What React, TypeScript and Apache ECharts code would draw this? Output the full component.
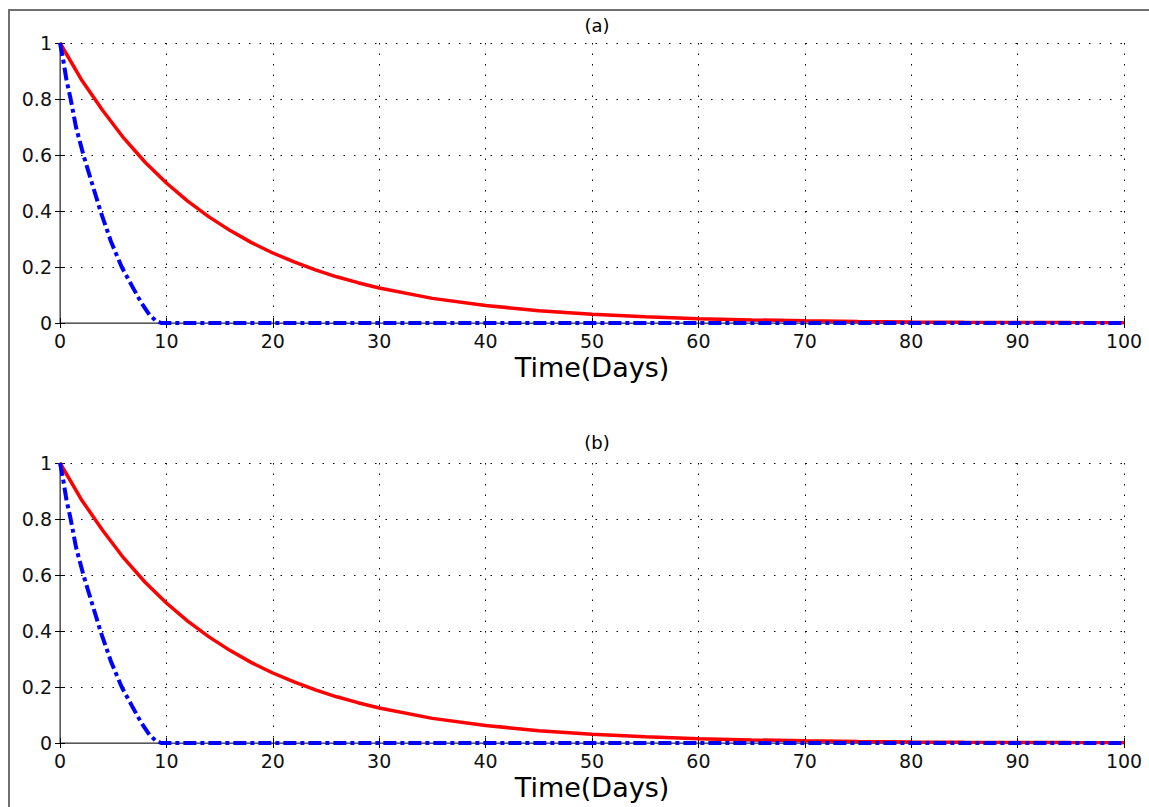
import React, { useEffect, useRef } from "react";
import * as echarts from "echarts";

// Values
const redTimes = [0, 2, 4, 6, 8, 10, 12, 14, 16, 18, 20, 22, 24, 26, 28, 30, 35, 40, 45, 50, 55, 60, 65, 70, 75, 80, 85, 90, 95, 100];
const redValues = [1, 0.87, 0.76, 0.66, 0.574, 0.5, 0.435, 0.379, 0.33, 0.287, 0.25, 0.218, 0.19, 0.165, 0.144, 0.125, 0.088, 0.0625, 0.044, 0.031, 0.022, 0.0156, 0.011, 0.0078, 0.0055, 0.0039, 0.0028, 0.002, 0.0014, 0.001];

const blueTimes = [0, 0.3, 0.6, 1, 1.5, 2.2, 3, 3.8, 4.8, 5.8, 6.8, 7.6, 8.4, 9, 9.5, 20, 40, 60, 80, 100];
const blueValues = [1, 0.94, 0.87, 0.8, 0.7, 0.6, 0.5, 0.4, 0.29, 0.2, 0.13, 0.075, 0.03, 0.008, 0, 0, 0, 0, 0, 0];

const xTicks = [0, 10, 20, 30, 40, 50, 60, 70, 80, 90, 100];
const yTicks = [0, 0.2, 0.4, 0.6, 0.8, 1];
const panelTitles = ["(a)", "(b)"];
const xAxisName = "Time(Days)";

const FONT = "DejaVu Sans, sans-serif";

export default function App() {
  const ref = useRef<HTMLDivElement>(null);
  useEffect(() => {
    document.body.style.margin = "0";
    const chart = echarts.init(ref.current!, null, { renderer: "svg" });
    const red = redTimes.map((t, i) => [t, redValues[i]]);
    const blue = blueTimes.map((t, i) => [t, blueValues[i]]);
    const tops = [43, 463];
    const grids = tops.map((top) => ({ left: 60, top, width: 1064, height: 280, show: false }));
    const xAxes: any[] = [];
    const yAxes: any[] = [];
    const series: any[] = [];
    tops.forEach((_, g) => {
      xAxes.push({
        type: "value",
        gridIndex: g,
        min: xTicks[0],
        max: xTicks[xTicks.length - 1],
        interval: 10,
        position: "bottom",
        name: xAxisName,
        nameLocation: "middle",
        nameGap: 31,
        nameTextStyle: { fontFamily: FONT, fontSize: 27, color: "#000" },
        axisLine: { lineStyle: { color: "#000", width: 1 } },
        axisTick: { inside: true, length: 5, lineStyle: { color: "#000" } },
        axisLabel: { fontFamily: FONT, fontSize: 19, color: "#111", margin: 8 },
        splitLine: { show: true, lineStyle: { color: "#000", type: [1.5, 9], width: 1 } },
      });
      xAxes.push({
        type: "value",
        gridIndex: g,
        min: 0,
        max: 100,
        interval: 10,
        position: "top",
        axisLine: { lineStyle: { color: "#777", width: 1.5 } },
        axisTick: { inside: true, length: 5, lineStyle: { color: "#000" } },
        axisLabel: { show: false },
        splitLine: { show: false },
      });
      yAxes.push({
        type: "value",
        gridIndex: g,
        min: yTicks[0],
        max: yTicks[yTicks.length - 1],
        interval: 0.2,
        position: "left",
        axisLine: { show: true, lineStyle: { color: "#000", width: 1 } },
        axisTick: { show: true, inside: true, length: 5, lineStyle: { color: "#000" } },
        axisLabel: { fontFamily: FONT, fontSize: 19, color: "#111", margin: 8 },
        splitLine: { show: true, lineStyle: { color: "#000", type: [1.5, 9], width: 1 } },
      });
      yAxes.push({
        type: "value",
        gridIndex: g,
        min: 0,
        max: 1,
        interval: 0.2,
        position: "right",
        axisLine: { show: true, lineStyle: { color: "#777", width: 1.5 } },
        axisTick: { show: true, inside: true, length: 5, lineStyle: { color: "#000" } },
        axisLabel: { show: false },
        splitLine: { show: false },
      });
      series.push({
        type: "line",
        xAxisIndex: g * 2,
        yAxisIndex: g * 2,
        data: red,
        showSymbol: false,
        smooth: false,
        lineStyle: { color: "#ff0000", width: 3.5 },
        z: 3,
      });
      series.push({
        type: "line",
        xAxisIndex: g * 2,
        yAxisIndex: g * 2,
        data: blue,
        showSymbol: false,
        smooth: false,
        lineStyle: { color: "#0000ff", width: 4, type: [13, 4, 4, 4] },
        z: 4,
      });
    });
    chart.setOption({
      animation: false,
      backgroundColor: "#fff",
      title: [
        { text: panelTitles[0], left: 592, top: 11, textAlign: "center", textStyle: { fontFamily: FONT, fontSize: 18, fontWeight: "normal", color: "#000" } },
        { text: panelTitles[1], left: 592, top: 428, textAlign: "center", textStyle: { fontFamily: FONT, fontSize: 18, fontWeight: "normal", color: "#000" } },
      ],
      grid: grids,
      xAxis: xAxes,
      yAxis: yAxes,
      series,
      graphic: [
        {
          type: "rect",
          shape: { x: 9, y: 10, width: 1200, height: 900 },
          style: { fill: "none", stroke: "#707070", lineWidth: 2 },
          silent: true,
        },
      ],
    });
    return () => chart.dispose();
  }, []);
  return <div ref={ref} style={{ width: 1149, height: 807 }} />;
}
